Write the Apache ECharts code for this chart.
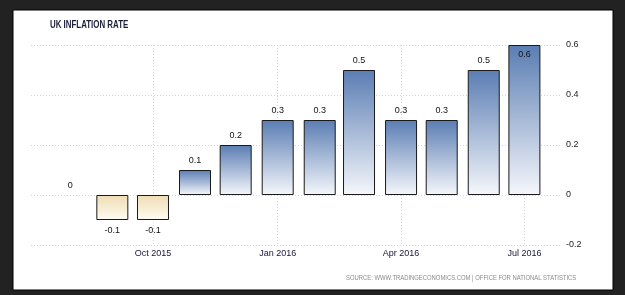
<!DOCTYPE html>
<html><head><meta charset="utf-8">
<script src="https://cdn.jsdelivr.net/npm/echarts@6/dist/echarts.min.js"></script>
<style>html,body{margin:0;padding:0;background:#222;} #c{width:625px;height:295px;}</style>
</head><body><div id="c"></div>
<script>
// Data
const months = ['2015-08-01','2015-09-01','2015-10-01','2015-11-01','2015-12-01','2016-01-01',
                '2016-02-01','2016-03-01','2016-04-01','2016-05-01','2016-06-01','2016-07-01'];
const values = [0, -0.1, -0.1, 0.1, 0.2, 0.3, 0.3, 0.5, 0.3, 0.3, 0.5, 0.6];
const xTickDates = ['2015-10-01','2016-01-01','2016-04-01','2016-07-01'];
const xTickLabels = ['Oct 2015','Jan 2016','Apr 2016','Jul 2016'];
const yTicks = [-0.2, 0, 0.2, 0.4, 0.6];
const titleText = 'UK INFLATION RATE';
const sourceText = 'SOURCE: WWW.TRADINGECONOMICS.COM | OFFICE FOR NATIONAL STATISTICS';

function ts(s){ const p = s.split('-').map(Number); return Date.UTC(p[0], p[1]-1, p[2]); }
const tickTs = xTickDates.map(ts);

const blueGrad = new echarts.graphic.LinearGradient(0,0,0,1,[{offset:0,color:'#5a7db3'},{offset:1,color:'#f5f7fb'}]);
const beigeGrad = new echarts.graphic.LinearGradient(0,0,0,1,[{offset:0,color:'#eedcb3'},{offset:1,color:'#fffcf3'}]);

const maxV = Math.max(...values);
const data = months.map((m,i) => {
  const v = values[i];
  return {
    value: [ts(m), v],
    itemStyle: { color: v < 0 ? beigeGrad : blueGrad, borderWidth: v === 0 ? 0 : 1 },
    label: { position: v < 0 ? 'bottom' : (v === maxV ? 'insideTop' : 'top'), distance: v < 0 ? 6 : 5 }
  };
});

const chart = echarts.init(document.getElementById('c'), null, {renderer:'canvas'});
const lbl = {fontFamily:'Liberation Sans, Arial, sans-serif', fontSize:9, color:'#15153a'};
const gridLine = {show:true, lineStyle:{color:'#d4d4d4', type:[1,2], width:1}};
chart.setOption({
  backgroundColor:'#222',
  animation:false,
  graphic:[
    {type:'rect', shape:{x:13,y:10,width:600,height:280}, style:{fill:'#fff', stroke:'#000', lineWidth:1}, z:-10},
    {type:'text', x:50, y:20, scaleX:0.79, style:{text:titleText, fontFamily:'Liberation Sans, Arial', fontWeight:'bold', fontSize:10, fill:'#1c1c3a', verticalAlign:'top'}},
    {type:'text', x:346, y:275, scaleX:0.84, style:{text:sourceText, fontFamily:'Liberation Sans, Arial', fontSize:7, fill:'#8a8a8a', verticalAlign:'top'}}
  ],
  grid:{left:31, top:45, width:530, bottom:50, containLabel:false},
  xAxis:{
    type:'value',
    min: ts('2015-07-03'), max: ts('2016-07-28'),
    axisLine:{show:false}, axisTick:{show:false, customValues: tickTs},
    axisLabel:{customValues: tickTs, ...lbl, margin:4, hideOverlap:false,
      formatter: v => { const i = tickTs.indexOf(v); return i >= 0 ? xTickLabels[i] : ''; }},
    splitLine: gridLine
  },
  yAxis:{
    type:'value', position:'right', min:-0.2, max:0.6, interval:0.2,
    axisLine:{show:false}, axisTick:{show:false},
    axisLabel:{...lbl, color:'#222', margin:5, formatter: v => { const r = Math.round(v*10)/10; return yTicks.includes(r) ? String(r) : ''; }},
    splitLine: gridLine
  },
  series:[{
    type:'bar', data:data, barWidth:32,
    itemStyle:{borderColor:'#1a1a1a'},
    label:{show:true, ...lbl, color:'#111', formatter: p => String(p.value[1])}
  }]
});
</script></body></html>
